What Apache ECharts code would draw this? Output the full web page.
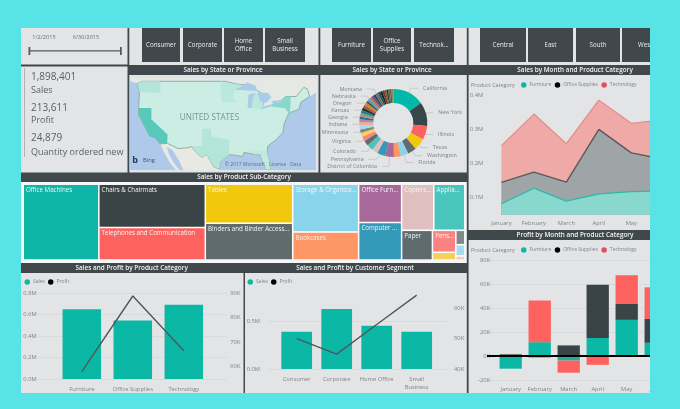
<!DOCTYPE html>
<html><head><meta charset="utf-8">
<style>html,body{margin:0;padding:0;background:#58E3E6}#c{width:680px;height:409px;filter:blur(0.45px)}</style>
<script src="https://cdn.jsdelivr.net/npm/echarts@6/dist/echarts.min.js"></script>
</head><body><div id="c"></div>
<script>
// ---------- data ----------
const months = ['January','February','March','April','May','June'];
const areaFurniture = [0.082,0.128,0.090,0.111,0.118,0.120];
const areaOffice = [0.145,0.175,0.146,0.301,0.232,0.213];
const areaTechnology = [0.253,0.346,0.259,0.387,0.319,0.329];

const profitFurniture = [-10.5,11.7,-3.6,15.3,30.4,11.2];
const profitOffice = [1.5,-1,9,44.6,13.7,20];
const profitTechnology = [0,34.9,-10.3,-7.3,23.7,26.5];

const productCategories = ['Furniture','Office Supplies','Technology'];
const categorySales = [0.651,0.545,0.694];
const categoryProfit = [58,88.9,66.5];

const segments = ['Consumer','Corporate','Home Office','Small\nBusiness'];
const segmentSales = [0.394,0.634,0.458,0.394];
const segmentProfit = [50,44.9,54.7,64.4];

const subCategories = ['Office Machines','Chairs & Chairmats','Telephones and Communication','Tables','Binders and Binder Accessories','Storage & Organization','Bookcases','Office Furnishings','Computer Peripherals','Copiers and Fax','Appliances','Paper','Pens & Art Supplies','Labels','Scissors','Envelopes','Rubber Bands'];
const subCategorySales = [313,251,190,186,176,172,101,90,88,81,78,50,28,10,7,5.5,2];
const subCategoryColors = ['#0DB6A6','#3A4447','#FD625E','#F2C80F','#5F6B6D','#8AD4EB','#FE9666','#A66999','#3599B8','#DFBFBF','#4AC5BB','#5F6B6D','#FB8281','#F4D25A','#7F898A','#A4DDEE','#F3C9B8'];
const subCategoryUnlabelled = ['Labels','Scissors','Envelopes','Rubber Bands'];

const states = ['California','New York','Illinois','Texas','Washington','Florida','Ohio','District of Columbia','Pennsylvania','Michigan','Colorado','Arizona','Virginia','North Carolina','Minnesota','Wisconsin','Indiana','Tennessee','Missouri','Georgia','Maryland','Kansas','Massachusetts','Oregon','Alabama','Nebraska','Connecticut','Utah','Iowa','Montana','Oklahoma','Kentucky','Louisiana','Nevada','Arkansas','Mississippi','New Mexico','Idaho'];
const stateSales = [285,216,126,105,79,68,63,79,74,53,58,47,42,37,32,32,32,26,26,32,26,26,26,26,21,26,21,21,21,26,21,21,21,16,16,16,16,16];
const stateLabelled = ['California','New York','Illinois','Texas','Washington','Florida','District of Columbia','Pennsylvania','Colorado','Virginia','Minnesota','Indiana','Georgia','Kansas','Oregon','Nebraska','Montana'];
const pieColors = ['#01B8AA','#374649','#FD625E','#F2C80F','#5F6B6D','#8AD4EB','#FE9666','#A66999','#3599B8','#DFBFBF','#4AC5BB','#5F6B6D','#FB8281','#F4D25A','#7F898A','#A4DDEE','#FDAB89','#B687AC','#28738A','#A78F8F','#168980','#293537','#BB4A4A','#B59525','#475052','#6A9FB0','#BD7150','#7B4F71','#1B4D5C','#7D6B6B','#0D5C55','#1C2325','#7D3231','#796419','#303637','#476A76','#7E4B36','#8A8F4A'];

const kpiLines = ['1,898,401','Sales','213,611','Profit','24,879','Quantity ordered new'];
const slicerDates = ['1/2/2015','6/30/2015'];
const segmentButtons = ['Consumer','Corporate','Home\nOffice','Small\nBusiness'];
const categoryButtons = ['Furniture','Office\nSupplies','Technok...'];
const regionButtons = ['Central','East','South','West'];

// coarse lon/lat outlines for the map backdrop
const mapShapes = {
  Ocean:[[-127.15,25.67],[-64.9,25.67],[-64.9,50.05],[-127.15,50.05]],
  Canada:[[-127.15,50.05],[-64.9,50.05],[-64.9,46],[-67,45],[-71,45],[-76,43],[-83,41.5],[-84,46],[-89,48],[-95,49],[-123,49],[-125,48.5],[-127.15,49]],
  Mexico:[[-117.1,32.5],[-115.5,30],[-114,27.8],[-111.8,25.67],[-97.7,25.67],[-97.2,26],[-99,26.4],[-101.4,29.8],[-103,29],[-104.7,30],[-106.5,31.8],[-108,31.5],[-111,31.3],[-114.7,32.7]],
  Gulf:[[-114.8,31.7],[-113,31],[-111,28.5],[-109.3,25.67],[-110.6,25.67],[-112.5,27.5],[-114.2,30]],
  USA:[[-124.7,48.4],[-123,49],[-95.2,49],[-92,48.3],[-88,48],[-84.5,46.5],[-83,45.8],[-82.5,43],[-83,42],[-79,42.8],[-79,43.3],[-76.5,44],[-75,45],[-71.5,45],[-70,46.5],[-69,47.4],[-67.8,47],[-67,45],[-70,43.5],[-70.5,41.7],[-74,40.6],[-75.5,38],[-76,35.5],[-78,33.8],[-81,32],[-81.3,30],[-80,26.9],[-80.3,25.67],[-81.6,25.9],[-82.8,28],[-83.5,29.8],[-85.5,29.8],[-89,30.3],[-89.5,29.2],[-91.5,29.5],[-94,29.7],[-97,27.8],[-97.2,26],[-99,26.4],[-101.4,29.8],[-103,29],[-104.7,30],[-106.5,31.8],[-108,31.5],[-111,31.3],[-114.7,32.7],[-117.1,32.5],[-118.5,34],[-120.6,34.6],[-122.5,37.5],[-124.3,40.3],[-124.2,43],[-124,46.2]],
  Washington:[[-124.7,48.4],[-123,49],[-117,49],[-117,46],[-124,46.2]],
  Minnesota:[[-97,49],[-92,48.3],[-89.6,48],[-92,46.7],[-92.8,45],[-91.2,43.5],[-96.5,43.5]],
  Texas:[[-106.6,32],[-103,32],[-103,36.5],[-100,36.5],[-100,34.5],[-94,33.6],[-94,29.7],[-97,27.8],[-97.2,26],[-99,26.4],[-101.4,29.8],[-103,29],[-104.7,30]],
  Michigan:[[-86.8,41.8],[-82.8,41.8],[-82.5,43],[-83.4,45.7],[-85.5,45.7],[-86.4,44]],
  Florida:[[-87.5,31],[-81.6,30.7],[-80,26.9],[-80.3,25.67],[-81.6,25.9],[-82.8,28],[-83.5,29.8],[-85.5,29.8]],
  California:[[-124.2,42],[-120,42],[-120,39],[-114.6,35],[-114.7,32.7],[-117.1,32.5],[-118.5,34],[-120.6,34.6],[-122.5,37.5],[-124.3,40.3]],
  NewYork:[[-79.7,42.3],[-79,42.8],[-79,43.3],[-76.5,43.6],[-75,45],[-73.4,45],[-73.5,42],[-73.6,41],[-72,41],[-74,40.6],[-75.3,42]],
  Superior:[[-92,46.7],[-88,48.7],[-85,47.8],[-84.7,46.5],[-87,46.5],[-90,46.7]],
  LakeMichigan:[[-87.8,42],[-86.5,42],[-86,44.7],[-85,46],[-87.5,45.5]],
  Huron:[[-84.5,46],[-81,46],[-79.8,44.8],[-81.7,43.2],[-83.5,43.7]],
  Erie:[[-83.3,41.6],[-79,42.7],[-79.2,43],[-83,42.3]],
  Ontario:[[-79.7,43.3],[-76.3,43.4],[-76.3,44],[-79.5,43.9]]
};
const mapFill = {Ocean:'#AFC9EA',Canada:'#E6E8E4',Mexico:'#E8E9E3',Gulf:'#AFC9EA',USA:'#CBEDE3',Washington:'#B3E5D9',Minnesota:'#BAE8DC',Texas:'#B3E5D9',Michigan:'#BAE8DC',Florida:'#C0EADF',California:'#58C8BA',NewYork:'#86D8CA',Superior:'#A9CDE8',LakeMichigan:'#A9CDE8',Huron:'#A9CDE8',Erie:'#A9CDE8',Ontario:'#A9CDE8'};

// ---------- styles ----------
const FONT = '"Open Sans","Noto Sans",sans-serif';
const BG = '#58E3E6', PANEL = '#E3E4E6', DARK = '#41484B', GREY = '#7E8386', GRID = '#D6D7D9';
const TEAL = '#0BB8A6', RED = '#FD625E', CHAR = '#3A4447';

echarts.registerMap('usa', {type:'FeatureCollection', features:Object.keys(mapShapes).map(k=>({
  type:'Feature', properties:{name:k}, geometry:{type:'Polygon', coordinates:[mapShapes[k].concat([mapShapes[k][0]])]}
}))});

// ---------- static furniture ----------
const g = [];
const rect = (x,y,w,h,fill,z)=>g.push({type:'rect',shape:{x,y,width:w,height:h},style:{fill},z:z||0,silent:true});
const text = (t,x,y,size,fill,align,weight,z)=>g.push({type:'text',x,y,z:z||1,silent:true,style:{text:t,fill,fontSize:size,fontFamily:FONT,fontWeight:weight||'normal',align:align||'center',verticalAlign:'middle',lineHeight:size+2}});
rect(21,28,629,365,PANEL);
rect(21,182,446,81,'#F4F6F7');
// title bars
[[128,65,191,10,'Sales by State or Province',223],[319,65,149,10,'Sales by State or Province',392],[468,65,182,10,'Sales by Month and Product Category',575],
 [21,172.5,446,9.5,'Sales by Product Sub-Category',244],[21,263,223,10,'Sales and Profit by Product Category',131.7],[244,263,223,10,'Sales and Profit by Customer Segment',355],[468,230,182,10,'Profit by Month and Product Category',575]]
 .forEach(b=>{rect(b[0],b[1],b[2],b[3],DARK);text(b[4],b[5],b[1]+b[3]/2,6.4,'#F4F5F5','center','600');});
rect(21,64.5,107,2,DARK);
rect(127.5,28,1.8,145,DARK);rect(318.5,28,1.8,145,DARK);rect(466.8,28,1.8,365,DARK);rect(243.5,263,1.5,130,DARK);
// slicer
text(slicerDates[0],44,37,5.6,'#6c7073');text(slicerDates[1],86,37,5.6,'#6c7073');
rect(29,50.2,92,1.2,'#555B5E');rect(28.5,47,1.8,8,'#555B5E');rect(120,47,1.8,8,'#555B5E');
// KPI
rect(24,68,0.8,89,'#A4A6A8');
[77.3,90,107.7,120.7,138.3,152].forEach((y,i)=>text(kpiLines[i],31,y,i%2?9:10,'#5A5F62','left'));
// buttons
const btn=(labels,xs,size)=>labels.forEach((t,i)=>{rect(xs[i][0],28,xs[i][1]-xs[i][0],34,DARK);text(t,(xs[i][0]+xs[i][1])/2,45.5,size,'#EDEEEE');});
btn(segmentButtons,[[142,180],[183,222],[224,263],[265,305]],6.2);
btn(categoryButtons,[[332,371],[373,411],[414,454]],6.2);
g.push({type:'rect',shape:{x:622,y:28,width:50,height:34},style:{fill:DARK},z:0,silent:true});
[[480,526],[528,573],[576,620]].forEach((xs,i)=>{rect(xs[0],28,xs[1]-xs[0],34,DARK);text(regionButtons[i],(xs[0]+xs[1])/2,45.5,6.2,'#EDEEEE');});
text(regionButtons[3],638,45.5,6.2,'#EDEEEE','left');
// map overlay text
text('UNITED STATES',209.5,118,8.2,'#7C9492','center','normal',5);
text('b',135,160,9,'#1F3A4A','center','bold',5);
text('Bing',143,160.5,5.8,'#3F5560','left','normal',5);
text('\u00A9 2017 Microsoft   License   Data',263,165,5,'#5A7088','center','normal',5);
// legend captions
text('Product Category',471,85,5.4,GREY,'left');
text('Product Category',471,250,5.4,GREY,'left');
// baseline stub left of the plot, and right-hand crop of the dashboard
rect(487,355,10,2,'#000',10);
rect(650,0,30,409,BG,100);

// ---------- helpers ----------
const xA=(gridIndex,data,margin)=>({type:'category',gridIndex,data,axisLine:{show:false},axisTick:{show:false},
  axisLabel:{color:GREY,fontSize:5.8,fontFamily:FONT,margin,interval:0,lineHeight:8}});
const yA=(gridIndex,min,max,interval,fmt,margin,position)=>({type:'value',gridIndex,min,max,interval,position:position||'left',
  axisLine:{show:false},axisTick:{show:false},axisLabel:{color:GREY,fontSize:5.8,fontFamily:FONT,margin,formatter:fmt,showMinLabel:true,showMaxLabel:true},
  splitLine:{show:false}});
// gridlines in the reference run past the plot bands, so they live on their own wider, unlabelled axes
const guideX=gridIndex=>({type:'category',gridIndex,data:[''],show:false});
const guideY=(gridIndex,min,max,interval,colors)=>({type:'value',gridIndex,min,max,interval,axisLine:{show:false},axisTick:{show:false},axisLabel:{show:false},
  splitLine:{show:true,lineStyle:{color:colors||GRID,width:0.8}}});
const legendOf=(left,top,items,gap)=>({left,top,padding:0,itemWidth:5.5,itemHeight:5.5,itemGap:gap,selectedMode:false,icon:'circle',
  textStyle:{color:GREY,fontSize:5,fontFamily:FONT,padding:[0,0,0,-2]},data:items.map(i=>({name:i[0],icon:'circle',itemStyle:{color:i[1]}}))});
const M=v=>v.toFixed(1)+'M';
const tenK=v=>Math.round(v)%10===0?Math.round(v)+'K':'';

const option={
  animation:false,
  backgroundColor:BG,
  graphic:{elements:g},
  legend:[
    legendOf(521,82.2,[['Furniture','#0BB8A3'],['Office Supplies','#000'],['Technology','#E05060']],3.5),
    legendOf(521,247.2,[['Furniture','#0BB8A3'],['Office Supplies','#000'],['Technology','#E05060']],3.5),
    legendOf(24.5,279.2,[['Sales','#0BB8A3'],['Profit','#000']],3),
    legendOf(247.5,279.2,[['Sales','#0BB8A3'],['Profit','#000']],3)
  ],
  grid:[
    {left:485.2,top:95.7,width:198,height:119},
    {left:496.2,top:260.7,width:174,height:119.3},
    {left:56.3,top:293.3,width:153,height:85.7},
    {left:276.7,top:293.3,width:160,height:75.7},
    {left:487,top:260.7,width:183,height:119.3},
    {left:38,top:293.3,width:189,height:85.7},
    {left:267,top:293.3,width:181,height:75.7}
  ],
  xAxis:[
    xA(0,months,5),
    xA(1,months,5.5),
    xA(2,productCategories,6),
    xA(3,segments,6),
    guideX(4),guideX(5),guideX(6)
  ],
  yAxis:[
    yA(0,0.05,0.4,0.05,v=>{const t=Math.round(v*100);return t%10===0?(t/100).toFixed(1)+'M':'';},2),
    yA(1,-20,80,20,v=>v+'K',6),
    yA(2,0,0.8,0.2,M,19.6),
    yA(2,55,90,5,tenK,21,'right'),
    yA(3,0,0.8,0.5,v=>v===0.8?'':M(v),16.7),
    yA(3,40,65,5,tenK,17.3,'right'),
    guideY(4,-20,80,20),
    guideY(5,0,0.8,0.2),
    guideY(6,0,0.8,0.5,[GRID,GRID,'transparent'])
  ],
  series:[
    {type:'map',map:'usa',silent:true,showLegendSymbol:false,left:130,top:77.3,width:186,height:92.7,aspectScale:0.786,roam:false,z:1,
      label:{show:false},emphasis:{disabled:true},select:{disabled:true},itemStyle:{borderWidth:0},
      data:Object.keys(mapFill).map(n=>({name:n,value:1,itemStyle:{areaColor:mapFill[n],
        borderColor:n==='USA'?'#8FAFA8':mapFill[n],borderWidth:n==='USA'?1:0}}))},
    {type:'pie',silent:true,center:[393.3,123],radius:[20,34],startAngle:90,z:2,
      label:{fontSize:5.4,color:GREY,fontFamily:FONT},labelLine:{length:5,length2:7,lineStyle:{color:'#BDBFC1',width:0.7}},
      data:states.map((n,i)=>{const on=stateLabelled.includes(n);return {name:n,value:stateSales[i],itemStyle:{color:pieColors[i]},
        label:{show:on},labelLine:{show:on}};})},
    {type:'treemap',silent:true,left:24,top:185,width:440,height:74.3,roam:false,nodeClick:false,breadcrumb:{show:false},
      itemStyle:{gapWidth:1.5,borderWidth:0},upperLabel:{show:false},
      label:{show:true,position:'insideTopLeft',distance:0,padding:[2,0,0,2],fontSize:6.2,color:'#F4F6F6',fontFamily:FONT,overflow:'truncate',ellipsis:'...'},
      levels:[{itemStyle:{gapWidth:1.5,borderWidth:0}}],
      data:subCategories.map((n,i)=>({name:n,value:subCategorySales[i],itemStyle:{color:subCategoryColors[i]},
        label:{show:!subCategoryUnlabelled.includes(n)}}))},
    // overlapping areas, largest drawn first
    {type:'line',name:'Technology',xAxisIndex:0,yAxisIndex:0,data:areaTechnology,symbol:'none',silent:true,
      itemStyle:{color:'#E05060'},lineStyle:{color:'#E58A88',width:1.2},areaStyle:{color:'#EFA9A6',opacity:1}},
    {type:'line',name:'Office Supplies',xAxisIndex:0,yAxisIndex:0,data:areaOffice,symbol:'none',silent:true,
      itemStyle:{color:'#000'},lineStyle:{color:'#555A5C',width:1.4},areaStyle:{color:'#9FA5A6',opacity:1}},
    {type:'line',name:'Furniture',xAxisIndex:0,yAxisIndex:0,data:areaFurniture,symbol:'none',silent:true,
      itemStyle:{color:'#0BB8A3'},lineStyle:{color:'#2DB8A8',width:1.2},areaStyle:{color:'#89D8CE',opacity:1}},
    // stacked profit
    {type:'bar',name:'Furniture',xAxisIndex:1,yAxisIndex:1,stack:'p',barWidth:22.3,data:profitFurniture,silent:true,itemStyle:{color:TEAL}},
    {type:'bar',name:'Office Supplies',xAxisIndex:1,yAxisIndex:1,stack:'p',barWidth:22.3,data:profitOffice,silent:true,itemStyle:{color:CHAR}},
    {type:'bar',name:'Technology',xAxisIndex:1,yAxisIndex:1,stack:'p',barWidth:22.3,data:profitTechnology,silent:true,itemStyle:{color:RED},
      markLine:{silent:true,symbol:'none',label:{show:false},lineStyle:{color:'#000',width:2,type:'solid'},data:[{yAxis:0}]}},
    // category combo
    {type:'bar',name:'Sales',xAxisIndex:2,yAxisIndex:2,barWidth:38.5,data:categorySales,silent:true,itemStyle:{color:TEAL}},
    {type:'line',name:'Profit',xAxisIndex:2,yAxisIndex:3,data:categoryProfit,symbol:'none',silent:true,lineStyle:{color:'#50565A',width:1.4},itemStyle:{color:'#000'},z:5},
    // segment combo
    {type:'bar',name:'Sales',xAxisIndex:3,yAxisIndex:4,barWidth:30.7,data:segmentSales,silent:true,itemStyle:{color:TEAL}},
    {type:'line',name:'Profit',xAxisIndex:3,yAxisIndex:5,data:segmentProfit,symbol:'none',silent:true,lineStyle:{color:'#50565A',width:1.4},itemStyle:{color:'#000'},z:5}
  ]
};
const chart=echarts.init(document.getElementById('c'),null,{renderer:'canvas'});
chart.setOption(option);
</script></body></html>
